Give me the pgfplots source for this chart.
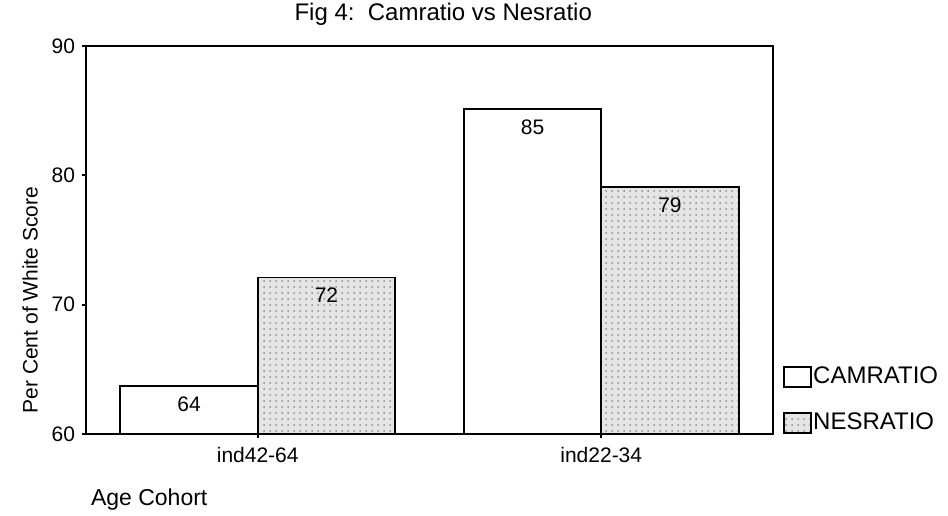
\documentclass[border=0pt]{standalone}
\usepackage{fontspec}
\setmainfont{Liberation Sans}
\usepackage{pgfplots}
\pgfplotsset{compat=1.18}
\usetikzlibrary{patterns}
\begin{document}
\begin{tikzpicture}
\path[use as bounding box] (-43pt,-40.5pt) rectangle (431pt,217pt);
\begin{axis}[
  at={(0,0)}, anchor=south west,
  scale only axis, width=343.5pt, height=194pt,
  ybar,
  xmin=-0.5, xmax=1.5, ymin=60, ymax=90,
  xtick={0,1}, xticklabels={ind42-64, ind22-34},
  ytick={60,70,80,90},
  xtick pos=bottom, ytick pos=left,
  tick align=outside, major tick length=2pt,
  axis line style={line width=1pt},
  tick style={line width=1pt, black},
  /pgf/number format/assume math mode=true,
  tick label style={font=\fontsize{10.5}{12}\selectfont},
  yticklabel style={xshift=0pt},
  xticklabel style={yshift=-1pt},
  bar width=0.4,
  title={Fig 4:\ \ Camratio vs Nesratio},
  title style={at={(axis description cs:0.52,1)}, anchor=center, yshift=10pt, font=\fontsize{12}{14}\selectfont},
  ylabel={Per Cent of White Score},
  ylabel style={at={(axis description cs:-0.0815,0.345)}, anchor=center, font=\fontsize{10.5}{12}\selectfont},
  xlabel={Age Cohort},
  xlabel style={at={(axis description cs:0,0)}, anchor=west, yshift=-33pt, xshift=-1pt, font=\fontsize{11.5}{13}\selectfont},
  nodes near coords={\pgfmathprintnumber[fixed,precision=0]{\pgfplotspointmeta}},
  every node near coord/.append style={anchor=north, yshift=-1.5pt, font=\fontsize{10.5}{12}\selectfont},
  legend image code/.code={\draw[#1] (0pt,-5pt) rectangle (13.5pt,5pt);},
  legend style={draw=none, fill=none, at={(axis description cs:1,0)}, anchor=south west,
    xshift=5pt, yshift=0pt, row sep=12pt, inner sep=0pt,
    nodes={inner sep=0.5pt}, font=\fontsize{12}{14}\selectfont},
  legend cell align=left,
]
\addplot[draw=black, line width=0.9pt, fill=white, bar shift=-0.2]
  coordinates {(0,63.7) (1,85.1)};
\addplot[draw=black, line width=0.9pt, fill=black!10,
  postaction={pattern=dots, pattern color=black!45}, bar shift=0.2]
  coordinates {(0,72.1) (1,79.1)};
\legend{CAMRATIO, NESRATIO}
\end{axis}
\end{tikzpicture}
\end{document}
